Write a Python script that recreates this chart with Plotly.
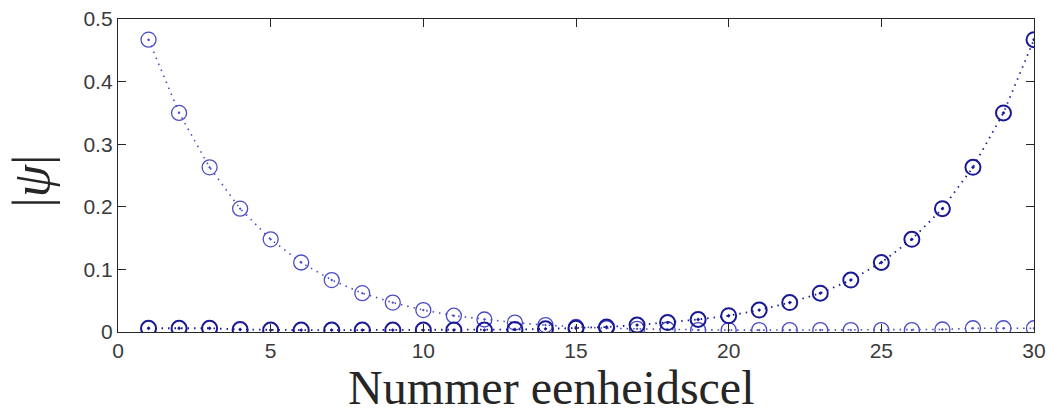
import plotly.graph_objects as go

cells = list(range(1, 31))
# left edge state (lighter circles)
psi_left = [0.467, 0.350, 0.263, 0.197, 0.148, 0.111, 0.083, 0.062, 0.047, 0.035,
            0.026, 0.020, 0.015, 0.011, 0.008, 0.006, 0.005, 0.004, 0.003, 0.003,
            0.003, 0.003, 0.003, 0.003, 0.003, 0.003, 0.004, 0.006, 0.006, 0.006]
# right edge state (darker circles)
psi_right = [0.006, 0.006, 0.006, 0.004, 0.003, 0.003, 0.003, 0.003, 0.003, 0.003,
             0.003, 0.003, 0.004, 0.005, 0.006, 0.008, 0.011, 0.015, 0.020, 0.026,
             0.035, 0.047, 0.062, 0.083, 0.111, 0.148, 0.197, 0.263, 0.350, 0.467]

x_ticks = [0, 5, 10, 15, 20, 25, 30]
y_ticks = [0, 0.1, 0.2, 0.3, 0.4, 0.5]

light = "rgb(75,75,200)"
dark = "rgb(25,25,150)"

fig = go.Figure()
fig.add_trace(go.Scatter(
    x=cells, y=psi_left, mode="lines+markers",
    line=dict(color=light, width=1.6, dash="1.5px,5px"),
    marker=dict(symbol="circle-open-dot", size=15, color=light,
                line=dict(width=1.3, color=light)),
    showlegend=False))
fig.add_trace(go.Scatter(
    x=cells, y=psi_right, mode="lines+markers",
    line=dict(color=dark, width=1.8, dash="1.5px,5px"),
    marker=dict(symbol="circle-open-dot", size=15, color=dark,
                line=dict(width=2, color=dark)),
    showlegend=False))

axis_common = dict(showgrid=False, zeroline=False, showline=True, linecolor="#262626",
                   linewidth=1.3, ticks="inside", ticklen=8, tickcolor="#262626",
                   mirror="ticks", automargin=False,
                   tickfont=dict(family="Liberation Sans", size=21, color="#3a3a3a"))
fig.update_xaxes(range=[0, 30], tickvals=x_ticks, ticktext=[str(v) for v in x_ticks], **axis_common)
fig.update_yaxes(range=[0, 0.5], tickvals=y_ticks,
                 ticktext=["0", "0.1", "0.2", "0.3", "0.4", "0.5"], **axis_common)

fig.add_annotation(text="Nummer eenheidscel", xref="x", yref="paper", x=14.2, y=-84 / 313,
                   xanchor="center", yanchor="bottom", showarrow=False,
                   font=dict(family="Liberation Serif", size=48, color="#262626"))
fig.add_annotation(text="|<i>ψ</i>|", xref="paper", yref="y", x=0, y=0.24,
                   xanchor="center", yanchor="middle", xshift=-86, showarrow=False,
                   textangle=-90,
                   font=dict(family="Liberation Serif", size=52, color="#262626"))

fig.update_layout(width=1049, height=416, margin=dict(l=118, r=15, t=19, b=84),
                  plot_bgcolor="white", paper_bgcolor="white")
fig.write_html("out.html")
